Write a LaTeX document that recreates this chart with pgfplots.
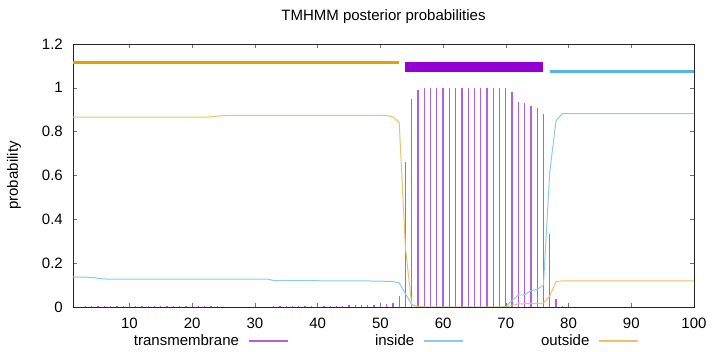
\documentclass[border=0pt]{standalone}
\usepackage{fontspec}
\setmainfont{Liberation Sans}
\usepackage{pgfplots}
\usepackage{pgfplotstable}
\pgfplotsset{compat=1.18}
\definecolor{tmc}{HTML}{9400D3}
\definecolor{inc}{HTML}{56B4E9}
\definecolor{outc}{HTML}{E69F00}
\definecolor{tmline}{HTML}{B060E0}
\definecolor{inline}{HTML}{8CCBEF}
\definecolor{outline}{HTML}{EFC268}

\pgfplotstableread{
x tm inside outside
1 0.000 0.136 0.866
2 0.002 0.136 0.866
3 0.003 0.136 0.866
4 0.004 0.135 0.866
5 0.005 0.131 0.866
6 0.005 0.128 0.866
7 0.005 0.127 0.866
8 0.005 0.127 0.866
9 0.005 0.127 0.866
10 0.005 0.127 0.866
11 0.005 0.127 0.866
12 0.005 0.127 0.866
13 0.005 0.127 0.866
14 0.005 0.127 0.866
15 0.005 0.127 0.866
16 0.005 0.127 0.866
17 0.005 0.127 0.866
18 0.005 0.127 0.866
19 0.005 0.127 0.866
20 0.005 0.127 0.866
21 0.005 0.127 0.866
22 0.005 0.127 0.866
23 0.005 0.127 0.868
24 0.004 0.127 0.871
25 0.000 0.127 0.873
26 0.000 0.127 0.874
27 0.000 0.127 0.874
28 0.000 0.127 0.874
29 0.000 0.127 0.874
30 0.000 0.127 0.874
31 0.000 0.127 0.874
32 0.000 0.127 0.874
33 0.004 0.121 0.874
34 0.005 0.120 0.874
35 0.005 0.120 0.874
36 0.005 0.120 0.874
37 0.005 0.120 0.874
38 0.005 0.120 0.874
39 0.005 0.120 0.874
40 0.005 0.120 0.874
41 0.005 0.119 0.874
42 0.005 0.119 0.874
43 0.005 0.119 0.874
44 0.005 0.119 0.874
45 0.007 0.119 0.874
46 0.008 0.119 0.874
47 0.009 0.119 0.874
48 0.010 0.119 0.874
49 0.011 0.118 0.874
50 0.012 0.118 0.875
51 0.012 0.117 0.874
52 0.016 0.116 0.867
53 0.049 0.110 0.842
54 0.660 0.060 0.270
55 0.948 0.012 0.010
56 0.990 0.002 0.002
57 0.997 0.000 0.000
58 1.000 0.000 0.000
59 1.000 0.000 0.000
60 1.000 0.000 0.000
61 1.000 0.000 0.000
62 1.000 0.000 0.000
63 1.000 0.000 0.000
64 1.000 0.000 0.000
65 1.000 0.000 0.000
66 1.000 0.000 0.000
67 1.000 0.000 0.000
68 1.000 0.000 0.000
69 1.000 0.000 0.000
70 0.998 0.002 0.000
71 0.982 0.030 0.008
72 0.936 0.055 0.014
73 0.930 0.056 0.015
74 0.918 0.075 0.015
75 0.907 0.080 0.016
76 0.879 0.100 0.018
77 0.332 0.615 0.050
78 0.038 0.849 0.116
79 0.003 0.882 0.119
80 0.000 0.882 0.119
81 0.000 0.882 0.119
82 0.000 0.882 0.119
83 0.000 0.882 0.119
84 0.000 0.882 0.119
85 0.000 0.882 0.119
86 0.000 0.882 0.119
87 0.000 0.882 0.119
88 0.000 0.882 0.119
89 0.000 0.882 0.119
90 0.000 0.882 0.119
91 0.000 0.882 0.119
92 0.000 0.882 0.119
93 0.000 0.882 0.119
94 0.000 0.882 0.119
95 0.000 0.882 0.119
96 0.000 0.882 0.119
97 0.000 0.882 0.119
98 0.000 0.882 0.119
99 0.000 0.882 0.119
100 0.000 0.882 0.119
}\probs

\begin{document}
\begin{tikzpicture}[font=\fontsize{15bp}{18bp}\selectfont]
\useasboundingbox (-73bp,-45bp) rectangle (647bp,307bp);
\begin{axis}[
  at={(0,0)}, anchor=south west,
  scale only axis, width=621bp, height=263bp,
  xmin=1, xmax=100, ymin=0, ymax=1.2,
  xtick={10,20,30,40,50,60,70,80,90,100},
  ytick={0,0.2,0.4,0.6,0.8,1,1.2},
  tick align=inside, major tick length=4bp,
  tick style={black!55, line width=0.6bp},
  axis line style={black!85, line width=0.8bp},
  /pgf/number format/assume math mode=true,
  xticklabel style={anchor=base, inner sep=0pt, yshift=-21bp},
  yticklabel style={anchor=east, inner sep=0pt, xshift=-10bp},
  title={TMHMM posterior probabilities},
  title style={at={(0.5,1)}, anchor=base, inner sep=0pt, yshift=18bp},
  ylabel={probability},
  ylabel style={at={(axis description cs:-0.095,0.5)}, anchor=center, inner sep=0pt},
  legend columns=3, legend plot pos=right, legend cell align=right,
  legend style={draw=none, fill=none, inner sep=0pt, outer sep=0pt,
    at={(axis description cs:0.0902,-0.1057)}, anchor=north west,
    nodes={inner sep=0pt},
    /tikz/every odd column/.style={column sep=9bp},
    /tikz/every even column/.style={column sep=16bp}},
]
% topology bars
\addplot[forget plot, outc, line width=3bp] coordinates {(1,1.114) (53,1.114)};
\addplot[forget plot, tmc, line width=10bp] coordinates {(54,1.095) (76,1.095)};
\addplot[forget plot, inc, line width=3bp] coordinates {(77,1.075) (100,1.075)};
% posterior probabilities
\addplot[ycomb, draw=tmline, line width=1.2bp,
  legend image code/.code={\draw[draw=tmline, line width=1.2bp] (0bp,0bp) -- (39bp,0bp);}]
  table[x=x, y=tm] {\probs};
\addlegendentry{\makebox[110bp][r]{transmembrane}}
\addplot[draw=inline, line width=1bp,
  legend image code/.code={\draw[draw=inline, line width=1.2bp] (0bp,0bp) -- (39bp,0bp);}]
  table[x=x, y=inside] {\probs};
\addlegendentry{\makebox[110bp][r]{inside}}
\addplot[draw=outline, line width=1bp,
  legend image code/.code={\draw[draw=outline, line width=1.2bp] (0bp,0bp) -- (39bp,0bp);}]
  table[x=x, y=outside] {\probs};
\addlegendentry{\makebox[110bp][r]{outside}}
\end{axis}
\end{tikzpicture}
\end{document}
